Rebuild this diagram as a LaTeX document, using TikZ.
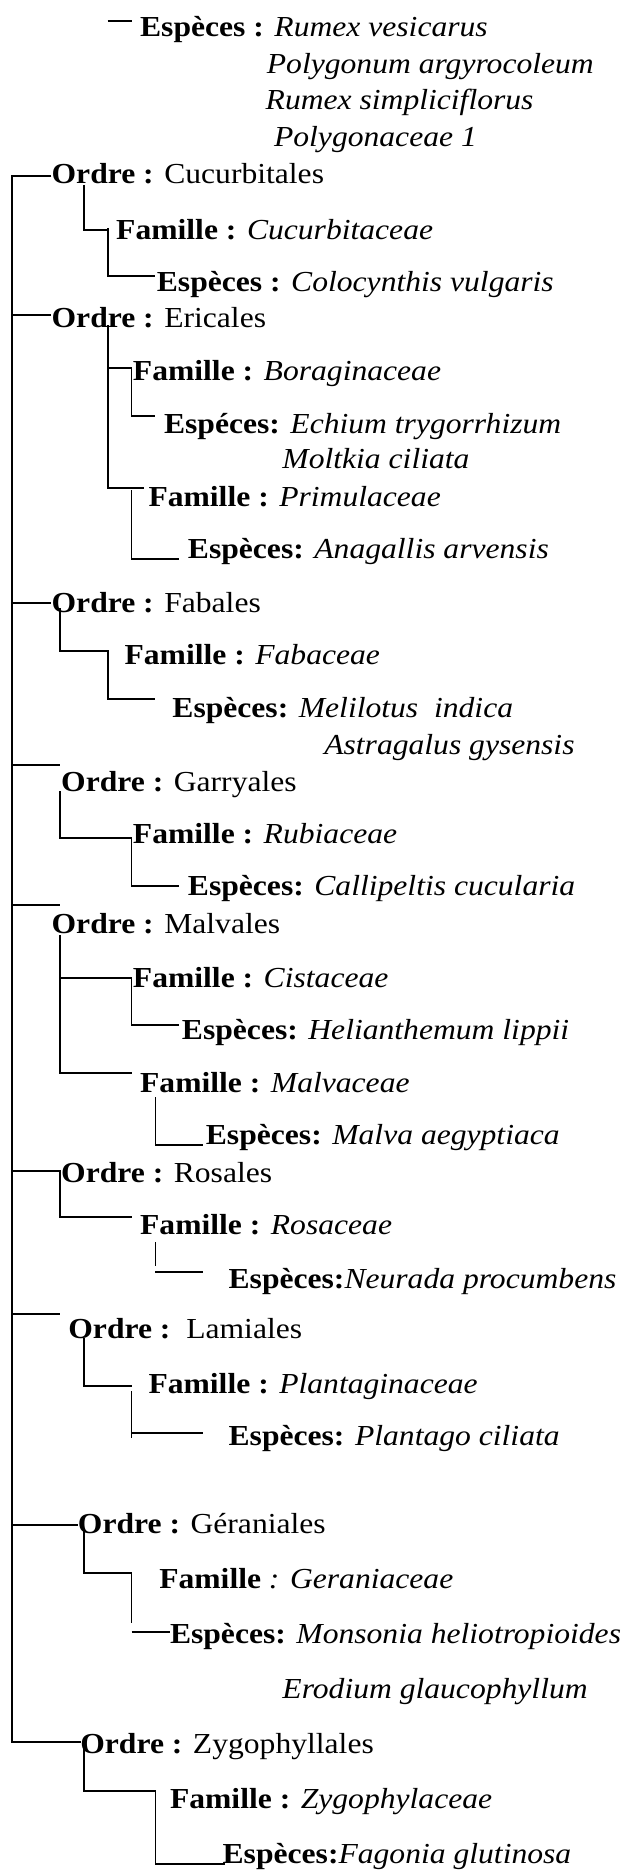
\documentclass[tikz,border=0pt]{standalone}
\usepackage{fontspec}
\setmainfont{Liberation Serif}[FakeStretch=1.09]
\begin{document}
\begin{tikzpicture}[x=1.196pt,y=-1pt,
  lbl/.style={anchor=base west,inner sep=0pt,font=\fontsize{29}{35}\selectfont},
  ln/.style={line width=1.8pt,black}]
\fill[white] (0,0) rectangle (522.6,1870);
\useasboundingbox (0,0) rectangle (522.6,1870);
% ---- texts ----
\node[lbl] (e0)  at (117,37)  {\textbf{Espèces :} \textit{Rumex vesicarus}};
\node[lbl] (e0b) at (223,74)  {\textit{Polygonum argyrocoleum}};
\node[lbl] (e0c) at (222,110) {\textit{Rumex simpliciflorus}};
\node[lbl] (e0d) at (229,147) {\textit{Polygonaceae 1}};
\node[lbl] (o1)  at (43,184)  {\textbf{Ordre :} Cucurbitales};
\node[lbl] (f1)  at (97,240)  {\textbf{Famille :} \textit{Cucurbitaceae}};
\node[lbl] (s1)  at (131,291) {\textbf{Espèces :} \textit{Colocynthis vulgaris}};
\node[lbl] (o2)  at (43,327)  {\textbf{Ordre :} Ericales};
\node[lbl] (f2a) at (111,380) {\textbf{Famille :} \textit{Boraginaceae}};
\node[lbl] (s2a) at (137,433) {\textbf{Espéces:} \textit{Echium trygorrhizum}};
\node[lbl] (s2b) at (236,468) {\textit{Moltkia ciliata}};
\node[lbl] (f2b) at (124,506) {\textbf{Famille :} \textit{Primulaceae}};
\node[lbl] (s2c) at (157,558) {\textbf{Espèces:} \textit{Anagallis arvensis}};
\node[lbl] (o3)  at (43,612)  {\textbf{Ordre :} Fabales};
\node[lbl] (f3)  at (104,664) {\textbf{Famille :} \textit{Fabaceae}};
\node[lbl] (s3a) at (144,717) {\textbf{Espèces:} \textit{Melilotus\ \ indica}};
\node[lbl] (s3b) at (271,754) {\textit{Astragalus gysensis}};
\node[lbl] (o4)  at (51,791)  {\textbf{Ordre :} Garryales};
\node[lbl] (f4)  at (111,843) {\textbf{Famille :} \textit{Rubiaceae}};
\node[lbl] (s4)  at (157,895) {\textbf{Espèces:} \textit{Callipeltis cucularia}};
\node[lbl] (o5)  at (43,933)  {\textbf{Ordre :} Malvales};
\node[lbl] (f5a) at (111,987) {\textbf{Famille :} \textit{Cistaceae}};
\node[lbl] (s5a) at (152,1039) {\textbf{Espèces:} \textit{Helianthemum lippii}};
\node[lbl] (f5b) at (117,1092) {\textbf{Famille :} \textit{Malvaceae}};
\node[lbl] (s5b) at (172,1144) {\textbf{Espèces:} \textit{Malva aegyptiaca}};
\node[lbl] (o6)  at (51,1182) {\textbf{Ordre :} Rosales};
\node[lbl] (f6)  at (117,1234) {\textbf{Famille :} \textit{Rosaceae}};
\node[lbl] (s6)  at (191,1288) {\textbf{Espèces:}\textit{Neurada procumbens}};
\node[lbl] (o7)  at (57,1338) {\textbf{Ordre :}\ \ Lamiales};
\node[lbl] (f7)  at (124,1393) {\textbf{Famille :} \textit{Plantaginaceae}};
\node[lbl] (s7)  at (191,1445) {\textbf{Espèces:} \textit{Plantago ciliata}};
\node[lbl] (o8)  at (65,1533) {\textbf{Ordre :} Géraniales};
\node[lbl] (f8)  at (133,1588) {\textbf{Famille} \textit{: Geraniaceae}};
\node[lbl] (s8a) at (142,1643) {\textbf{Espèces:} \textit{Monsonia heliotropioides}};
\node[lbl] (s8b) at (236,1698) {\textit{Erodium glaucophyllum}};
\node[lbl] (o9)  at (67,1753) {\textbf{Ordre :} Zygophyllales};
\node[lbl] (f9)  at (142,1808) {\textbf{Famille :} \textit{Zygophylaceae}};
\node[lbl] (s9)  at (186,1863) {\textbf{Espèces:}\textit{Fagonia glutinosa}};
% ---- line points ----
\coordinate (a0) at (90,21);   \coordinate (b0) at (110,21);
\coordinate (tt) at (10,176);  \coordinate (tb) at (10,1742);
\coordinate (h1) at (43,176);
\coordinate (t2) at (10,315);  \coordinate (h2) at (43,315);
\coordinate (t3) at (10,603);  \coordinate (h3) at (43,603);
\coordinate (t4) at (10,765);  \coordinate (h4) at (50,765);
\coordinate (t5) at (10,905);  \coordinate (h5) at (50,905);
\coordinate (t6) at (10,1171); \coordinate (h6) at (50,1171);
\coordinate (t7) at (10,1314); \coordinate (h7) at (50,1314);
\coordinate (t8) at (10,1525); \coordinate (h8) at (65,1525);
\coordinate (h9) at (68,1742);
% Cucurbitales
\coordinate (c1a) at (70,185);  \coordinate (c1b) at (90,230);
\coordinate (c1c) at (90,228);  \coordinate (c1d) at (130,276);
% Ericales
\coordinate (c2a) at (90,325);  \coordinate (c2b) at (120,488);
\coordinate (c2c) at (90,368);  \coordinate (c2d) at (110,368);
\coordinate (c2e) at (130,416);
\coordinate (c2f) at (110,490); \coordinate (c2g) at (150,559);
% Fabales
\coordinate (c3a) at (50,608);  \coordinate (c3b) at (90,651);
\coordinate (c3c) at (130,699);
% Garryales
\coordinate (c4a) at (50,791);  \coordinate (c4b) at (110,838);
\coordinate (c4c) at (150,886);
% Malvales
\coordinate (c5a) at (50,935);  \coordinate (c5b) at (110,1073);
\coordinate (c5c) at (50,978);  \coordinate (c5d) at (110,978);
\coordinate (c5e) at (150,1025);
\coordinate (c5f) at (130,1097); \coordinate (c5g) at (170,1145);
% Rosales
\coordinate (c6b) at (110,1217);
\coordinate (c6c) at (130,1242); \coordinate (c6d) at (130,1266);
\coordinate (c6e) at (130,1272); \coordinate (c6f) at (170,1272);
% Lamiales
\coordinate (c7a) at (70,1338);  \coordinate (c7b) at (110,1386);
\coordinate (c7c) at (110,1391); \coordinate (c7d) at (110,1438);
\coordinate (c7e) at (110,1433); \coordinate (c7f) at (170,1433);
% Geraniales
\coordinate (c8a) at (70,1528);  \coordinate (c8b) at (110,1573);
\coordinate (c8c) at (110,1623);
\coordinate (c8d) at (110,1632); \coordinate (c8e) at (142,1632);
% Zygophyllales
\coordinate (c9a) at (70,1745);  \coordinate (c9b) at (130,1791);
\coordinate (c9c) at (188,1864);
% ---- lines ----
\draw[ln] (a0) -- (b0);
\draw[ln] (h1) -- (tt) -- (tb) -- (h9);
\draw[ln] (t2) -- (h2);
\draw[ln] (t3) -- (h3);
\draw[ln] (t4) -- (h4);
\draw[ln] (t5) -- (h5);
\draw[ln] (t6) -- (h6) |- (c6b);
\draw[ln] (t7) -- (h7);
\draw[ln] (t8) -- (h8);
\draw[ln] (c1a) |- (c1b);
\draw[ln] (c1c) |- (c1d);
\draw[ln] (c2a) |- (c2b);
\draw[ln] (c2c) -- (c2d) |- (c2e);
\draw[ln] (c2f) |- (c2g);
\draw[ln] (c3a) |- (c3b) |- (c3c);
\draw[ln] (c4a) |- (c4b) |- (c4c);
\draw[ln] (c5a) |- (c5b);
\draw[ln] (c5c) -- (c5d) |- (c5e);
\draw[ln] (c5f) |- (c5g);
\draw[ln] (c6c) -- (c6d);
\draw[ln] (c6e) -- (c6f);
\draw[ln] (c7a) |- (c7b);
\draw[ln] (c7c) -- (c7d);
\draw[ln] (c7e) -- (c7f);
\draw[ln] (c8a) |- (c8b) -- (c8c);
\draw[ln] (c8d) -- (c8e);
\draw[ln] (c9a) |- (c9b) |- (c9c);
\end{tikzpicture}
\end{document}
